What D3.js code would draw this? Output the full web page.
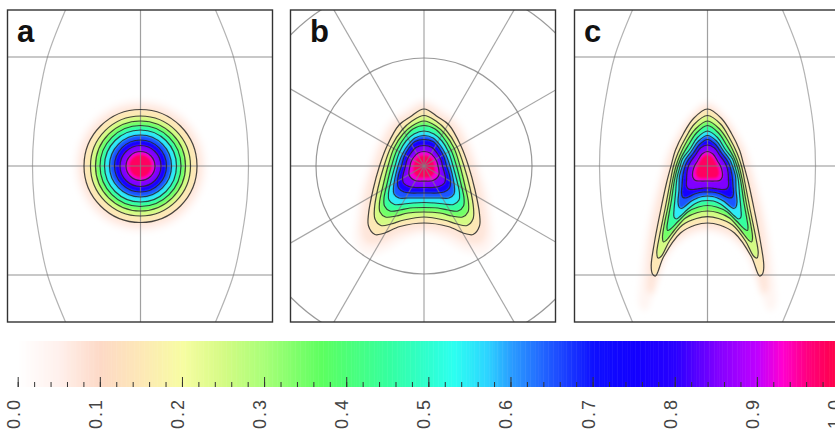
<!DOCTYPE html>
<html>
<head>
<meta charset="utf-8">
<script src="https://cdn.jsdelivr.net/npm/d3@7"></script>
<style>
  body { margin: 0; background: #fff; overflow: hidden; }
  svg { display: block; }
  text { font-family: "Liberation Sans", Arial, sans-serif; }
</style>
</head>
<body>
<script>
// colour key
const keyStops = [0, .05, .1, .15, .2, .25, .3, .37, .45, .5, .53, .57, .6, .65, .7, .75, .8, .85, .9, .93, .96, 1];
const keyColours = ["#ffffff", "#fff0ec", "#fdd9c6", "#fde8b6", "#f7fda2", "#d4fb84", "#a8ff78", "#5cff60", "#35ff9f", "#2fffd0", "#2dfff0",
  "#2dd5ff", "#2a9dff", "#1f55ff", "#0f10ff", "#1200ff", "#2a00ff", "#8000ff", "#c000ff", "#ff00d0", "#ff0080", "#ff0040"];
const majorTicks = [0, .1, .2, .3, .4, .5, .6, .7, .8, .9, 1];

// contour levels, pale halo first
const levels = [.02, .05, .1, .2, .3, .4, .5, .6, .7, .8, .9, .95];

// panel a: contour radii in map units
const radiiA = [66, 61, 56.5, 50, 45, 40.5, 36, 31, 26, 20.5, 14.5, 11.5];

// panel b: right half of each contour [x, y], map units, y down
const contoursB = [
  [[0,-66],[20,-56],[35,-44],[48,-20],[55,0],[64,28],[68,55],[69,75],[60,88],[42,86],[20,74],[0,68]],
  [[0,-62],[16,-53],[30,-43],[42,-22],[50,0],[58,26],[62,50],[63,65],[58,77],[45,78],[24,68],[0,63]],
  [[0,-57],[14,-49],[25,-41],[37,-20],[44.5,0],[51,24],[55.5,48],[55.5,60],[49,68.5],[41,67.5],[24,60.5],[0,57]],
  [[0,-50.5],[12,-45],[22,-36],[33,-19],[40,0],[46,22],[49.5,42],[49,53],[43,59.5],[33,58],[20,54],[0,51]],
  [[0,-45],[12,-40],[21,-32],[30,-18],[36,0],[41,20],[44.5,37],[44,46],[38.5,51],[28,50],[16,47],[0,46]],
  [[0,-40.5],[11,-37],[19,-29],[27,-16],[32.5,0],[37,18],[40,32],[39.5,40],[34,45],[24,44],[14,42],[0,41.5]],
  [[0,-35],[10,-32],[18,-25],[24.5,-14],[29,0],[33,15],[35.5,27],[35,34],[29.5,38.5],[20,38],[11,37],[0,36.5]],
  [[0,-30.5],[9,-28],[16,-21],[22,-11],[26,0],[29,12],[30.5,22],[30,28],[25,32],[16,32],[9,32],[0,32]],
  [[0,-26.5],[9,-24.5],[15,-18],[20,-9],[22.5,0],[25.5,9],[26.5,17],[25.5,22],[20,26],[13,27],[7,27],[0,27]],
  [[0,-20.5],[8,-18.5],[13,-13],[17,-6],[18.5,0],[20.5,7],[21.5,12],[20.5,17],[15,20.5],[9,21.5],[4,21.5],[0,21.5]],
  [[0,-14.5],[6,-13],[10.5,-8.5],[13,-4],[14,0],[15,5],[15,8.5],[13,12],[9,14.5],[5,15.2],[2,15.2],[0,15.2]],
  [[0,-11],[6,-9],[10,-4],[11,2],[10.5,7],[7,11],[3,12],[0,12]]
];

// panel c: same, the arms reach down past the lower grid line
const contoursC = [
  [[0,-65],[18,-51],[30,-34],[40,-15],[45,0],[50,18],[57,46],[63,78],[67,110],[68,140],[62,145],[52,122],[40,92],[25,75],[10,68],[0,66]],
  [[0,-61],[16,-49],[27,-33],[36,-15],[41,0],[46,18],[53,46],[58,76],[60,105],[60,125],[55,128],[50,112],[42,88],[26,71],[12,64],[0,62]],
  [[0,-57],[14,-47.5],[24,-32.5],[32,-16],[36.5,0],[41,17],[47,45],[53,76],[56.3,100],[55,108],[52,110],[44,91],[27,67],[12,59],[0,57]],
  [[0,-50.5],[13,-42],[22,-28],[29.5,-13],[34,0],[37.5,17],[42.5,43],[48,70],[50.7,87],[49.5,92],[46,90],[38,75],[25,59],[11,52.5],[0,50.7]],
  [[0,-45],[12,-37],[20.5,-25],[27.5,-11],[31.5,0],[35,15],[39,38],[43.5,60],[45,72],[44,76],[41,74],[33,64],[22,52],[10,46.5],[0,45]],
  [[0,-40.5],[11,-33],[19,-21],[26,-9],[29.5,0],[33,14],[36,34],[39.5,54],[40.5,61],[40,64.5],[37,63],[29,55],[19,45.5],[9,41],[0,39.5]],
  [[0,-35],[10,-28.5],[17.5,-17],[25,-7],[27.3,0],[30.5,12],[32,28],[33.5,44],[33.5,51],[31,53],[27,50],[20,43.5],[13,38],[6,35],[0,34.5]],
  [[0,-30.5],[9,-25],[16,-15],[22.5,-6],[25,0],[28,10],[28.5,24],[29.5,36],[28.5,41],[26,42.5],[22,40],[16,35],[10,32],[5,30.5],[0,30]],
  [[0,-26.5],[8,-21.5],[14,-13],[20,-5],[22.3,0],[24.5,9],[25.5,20],[26,27],[25,31],[22,32],[18,30.5],[13,28],[8,26.5],[4,26],[0,26]],
  [[0,-21],[7,-18],[12,-11],[17,-4],[19,0],[20.5,6],[21,14],[21,20],[19,23],[14,23.5],[10,23],[6,22.3],[3,22],[0,22]],
  [[0,-14.5],[5.5,-12],[10,-5],[13,0],[14.8,6],[14.8,11],[12,14.5],[7,15],[0,15]],
  [[0,-11.5],[5,-9],[9,-3],[11,2],[12,7],[10,11.5],[6,12.5],[0,12.5]]
];

// grid
const parallels = [-109, 0, 109];
const meridianEdge = [[75,-156],[93,-109],[102,-66],[106.5,-33],[108,0],[106.5,33],[102,66],[93,109],[75,156]];
const polarRadii = [108, 187];
const polarAngles = [0, 30, 60, 90, 120, 150, 180, 210, 240, 270, 300, 330];

const width = 835, height = 429;
const colour = d3.scaleLinear().domain(keyStops).range(keyColours);

const svg = d3.select("body").append("svg").attr("width", width).attr("height", height);

const defs = svg.append("defs");
defs.append("filter").attr("id", "soft").attr("x", "-20%").attr("y", "-20%").attr("width", "140%").attr("height", "140%")
  .append("feGaussianBlur").attr("stdDeviation", 1.1);
defs.append("filter").attr("id", "halo").attr("x", "-30%").attr("y", "-30%").attr("width", "160%").attr("height", "160%")
  .append("feGaussianBlur").attr("stdDeviation", 3);
defs.append("filter").attr("id", "line").attr("filterUnits", "userSpaceOnUse")
  .attr("x", 0).attr("y", 0).attr("width", width).attr("height", height)
  .append("feGaussianBlur").attr("stdDeviation", 0.4);

// mirror a right half into a whole outline
function mirror(half) {
  return half.concat(half.slice(1, -1).reverse().map(function(p) { return [-p[0], p[1]]; }));
}

function drawPanel(name, left, right, cx) {
  let top = 10, bottom = 322;
  let x = d3.scaleLinear().domain([-108, 108]).range([cx - 108, cx + 108]);
  let y = d3.scaleLinear().domain([-109, 109]).range([166 - 109, 166 + 109]);

  defs.append("clipPath").attr("id", "clip" + name)
    .append("rect").attr("x", left).attr("y", top).attr("width", right - left).attr("height", bottom - top);

  let g = svg.append("g").attr("clip-path", "url(#clip" + name + ")");

  let outline = d3.line()
    .x(function(d) { return x(d[0]); })
    .y(function(d) { return y(d[1]); })
    .curve(d3.curveCatmullRomClosed.alpha(0.5));

  let shapes = g.append("g").attr("class", "fills");
  let halo = shapes.append("g").attr("filter", "url(#halo)");
  let soft = shapes.append("g").attr("filter", "url(#soft)");
  let gridLayer = g.append("g").attr("class", "grid").attr("filter", "url(#line)")
    .attr("fill", "none").attr("stroke", "#808080").attr("stroke-width", 1.2);
  let lines = g.append("g").attr("filter", "url(#line)")
    .attr("fill", "none").attr("stroke", "#262626").attr("stroke-opacity", 0.85).attr("stroke-width", 1.2);

  // fills: each contour carries the colour of the band just inside it
  function bandColour(i) {
    return colour(i + 1 < levels.length ? (levels[i] + levels[i + 1]) / 2 : 0.98);
  }

  if (name == "a") {
    radiiA.forEach(function(r, i) {
      let target = levels[i] < 0.1 ? halo : soft;
      target.append("circle").attr("cx", x(0)).attr("cy", y(0)).attr("r", x(r) - x(0)).attr("fill", bandColour(i));
      if (levels[i] >= 0.1 && levels[i] < 0.95)
        lines.append("circle").attr("cx", x(0)).attr("cy", y(0)).attr("r", x(r) - x(0));
    });
  } else {
    let contours = name == "b" ? contoursB : contoursC;
    contours.forEach(function(half, i) {
      let d = outline(mirror(half));
      let target = levels[i] < 0.1 ? halo : soft;
      target.append("path").attr("d", d).attr("fill", bandColour(i));
      if (levels[i] >= 0.1 && levels[i] < 0.95)
        lines.append("path").attr("d", d);
    });
  }

  // grid
  let gridLine = d3.line().x(function(d) { return x(d[0]); }).y(function(d) { return y(d[1]); });
  if (name == "b") {
    polarRadii.forEach(function(r) {
      gridLayer.append("circle").attr("cx", x(0)).attr("cy", y(0)).attr("r", x(r) - x(0)).attr("stroke-opacity", 0.8);
    });
    polarAngles.forEach(function(a) {
      let rad = a * Math.PI / 180;
      gridLayer.append("path")
        .attr("stroke-opacity", a % 180 == 0 ? 1 : 0.7)
        .attr("d", gridLine([[0, 0], [240 * Math.cos(rad), 240 * Math.sin(rad)]]));
    });
  } else {
    parallels.forEach(function(p) {
      gridLayer.append("path").attr("stroke-opacity", 0.85).attr("d", gridLine([[-200, p], [200, p]]));
    });
    gridLayer.append("path").attr("stroke-opacity", 0.75).attr("d", gridLine([[0, -156], [0, 156]]));
    let curved = d3.line().x(function(d) { return x(d[0]); }).y(function(d) { return y(d[1]); }).curve(d3.curveCatmullRom);
    gridLayer.append("path").attr("stroke-opacity", 0.6).attr("d", curved(meridianEdge));
    gridLayer.append("path").attr("stroke-opacity", 0.6).attr("d", curved(meridianEdge.map(function(p) { return [-p[0], p[1]]; })));
  }

  svg.append("rect").attr("x", left).attr("y", top).attr("width", right - left).attr("height", bottom - top)
    .attr("fill", "none").attr("stroke", "#333").attr("stroke-width", 1.4);

  svg.append("text").attr("x", left + (name == "b" ? 19.5 : 9.5)).attr("y", 41.5)
    .attr("font-size", 31).attr("font-weight", "bold").attr("fill", "#111").text(name);
}

drawPanel("a", 7.5, 272.5, 140.5);
drawPanel("b", 290.5, 555.5, 424);
drawPanel("c", 574.5, 845, 707.5);

// colour key
let keyX = d3.scaleLinear().domain([0, 1]).range([17.7, 839]);
let keyTop = 341, keyBottom = 387;
let keyStep = 0.002;
svg.append("g").selectAll("rect")
  .data(d3.range(0, 1, keyStep))
  .enter().append("rect")
  .attr("x", function(d) { return keyX(d); })
  .attr("y", keyTop)
  .attr("width", keyX(keyStep) - keyX(0) + 0.5)
  .attr("height", keyBottom - keyTop)
  .attr("fill", function(d) { return colour(d); });

let minorAxis = d3.axisBottom(keyX).tickValues(d3.range(0, 51).map(function(i) { return i / 50; }))
  .tickSizeInner(-5).tickSizeOuter(0).tickFormat("");
let majorAxis = d3.axisBottom(keyX).tickValues(majorTicks)
  .tickSizeInner(-10).tickSizeOuter(0).tickFormat(d3.format(".1f"));

let minorG = svg.append("g").attr("transform", "translate(0," + keyBottom + ")").call(minorAxis);
let majorG = svg.append("g").attr("transform", "translate(0," + keyBottom + ")").call(majorAxis);
minorG.select(".domain").remove();
majorG.select(".domain").remove();
minorG.selectAll("line").attr("stroke", "#333");
majorG.selectAll("line").attr("stroke", "#333");
majorG.selectAll("text")
  .attr("transform", "rotate(-90)")
  .attr("x", -11)
  .attr("y", 1.5)
  .attr("dy", 0)
  .attr("text-anchor", "end")
  .attr("font-size", 18)
  .attr("letter-spacing", 2)
  .attr("fill", "#444")
  .attr("font-family", "Liberation Sans");
</script>
</body>
</html>
